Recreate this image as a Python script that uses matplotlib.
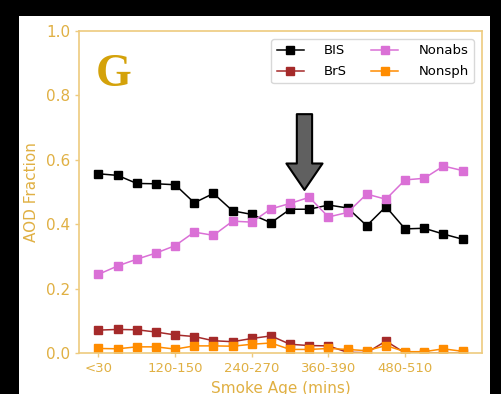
import matplotlib
matplotlib.use("Agg")
import matplotlib.pyplot as plt
from matplotlib.patches import Rectangle

# Smoke age bins (30-minute bins)
age_bins = ["<30"] + [f"{a}-{a + 30}" for a in range(30, 600, 30)]

bis = [0.557, 0.552, 0.527, 0.526, 0.523, 0.467, 0.496, 0.442, 0.431, 0.405,
       0.447, 0.447, 0.460, 0.451, 0.396, 0.455, 0.386, 0.388, 0.370, 0.354]
brs = [0.072, 0.074, 0.073, 0.066, 0.057, 0.052, 0.039, 0.036, 0.046, 0.054,
       0.028, 0.024, 0.023, 0.003, 0.002, 0.038, 0.001, 0.001, 0.001, 0.001]
nonabs = [0.245, 0.271, 0.292, 0.311, 0.334, 0.376, 0.366, 0.410, 0.407, 0.448,
          0.465, 0.484, 0.423, 0.437, 0.494, 0.478, 0.538, 0.543, 0.581, 0.567]
nonsph = [0.015, 0.014, 0.020, 0.020, 0.013, 0.023, 0.023, 0.022, 0.028, 0.032,
          0.012, 0.012, 0.015, 0.012, 0.008, 0.024, 0.005, 0.005, 0.014, 0.006]

series = [("BIS", bis, "black"),
          ("BrS", brs, "#a52a2a"),
          ("Nonabs", nonabs, "#da70d6"),
          ("Nonsph", nonsph, "#ff8c00")]

label_color = "#e0b043"
spine_color = "#eecb7e"

fig = plt.figure(figsize=(5.02, 3.94), dpi=100, facecolor="black")
fig.patches.append(Rectangle((19 / 502, 0), 471 / 502, 378 / 394,
                             transform=fig.transFigure, facecolor="white",
                             edgecolor="none", zorder=-10))
ax = fig.add_axes([0.158, 0.1033, 0.8016, 0.818])
ax.set_zorder(1)

x = list(range(len(age_bins)))
for name, vals, col in series:
    ax.plot(x, vals, marker="s", markersize=5.8, linewidth=1.1, color=col,
            label=name)

ax.set_xlim(-1, 20)
ax.set_ylim(0, 1.0)
ax.set_xticks(x[::4])
ax.set_xticklabels(age_bins[::4], fontsize=9.5)
ax.set_yticks([0, 0.2, 0.4, 0.6, 0.8, 1.0])
ax.set_yticklabels(["0.0", "0.2", "0.4", "0.6", "0.8", "1.0"], fontsize=11)
ax.tick_params(color=spine_color, labelcolor=label_color, length=3, width=1)
for sp in ax.spines.values():
    sp.set_color(spine_color)
    sp.set_linewidth(1.2)

ax.set_xlabel("Smoke Age (mins)", fontsize=11, color=label_color, labelpad=4)
ax.set_ylabel("AOD Fraction", fontsize=11, color=label_color, labelpad=5)

ax.text(0.04, 0.93, "G", transform=ax.transAxes, fontsize=33,
        fontweight="bold", family="Liberation Serif", color="#d4a20a",
        va="top", ha="left")

ax.annotate("", xy=(10.75, 0.507), xytext=(10.75, 0.742),
            arrowprops=dict(arrowstyle="simple,head_width=2.6,head_length=1.9,tail_width=1.1",
                            mutation_scale=10, facecolor="#606060",
                            edgecolor="black", linewidth=1.5,
                            shrinkA=0, shrinkB=0))

leg = ax.legend(loc="upper right", ncol=2, fontsize=9.5, handlelength=2.1,
                handletextpad=1.5, columnspacing=1.8, framealpha=1,
                borderaxespad=0.6, labelspacing=0.6)
leg.get_frame().set_edgecolor("#d8d8d8")

fig.savefig("out.png", dpi=100, facecolor="black")
